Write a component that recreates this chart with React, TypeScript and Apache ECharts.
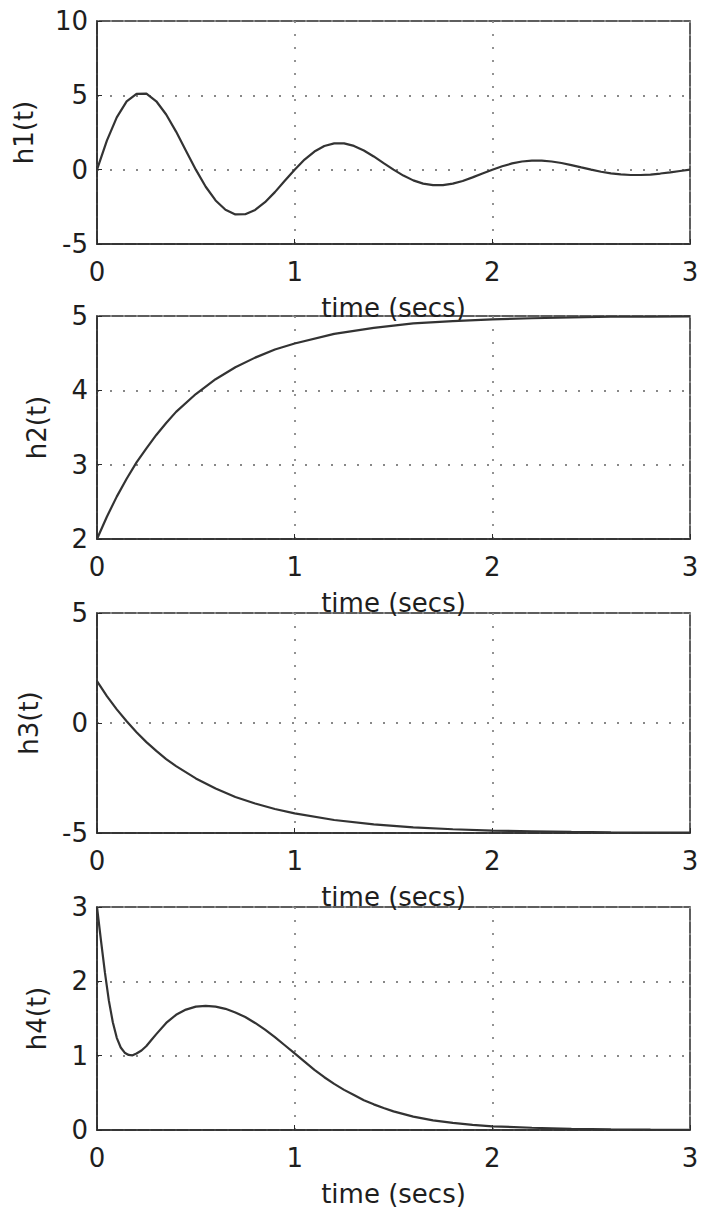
import React, { useEffect, useRef } from "react";
import * as echarts from "echarts";

// ---- data ----
const xTicks = [0, 1, 2, 3];

const t1 = [
  0, 0.05, 0.1, 0.15, 0.2, 0.25, 0.3, 0.35, 0.4, 0.45, 0.5, 0.55, 0.6, 0.65, 0.7, 0.75, 0.8, 0.85, 0.9, 0.95,
  1.0, 1.05, 1.1, 1.15, 1.2, 1.25, 1.3, 1.35, 1.4, 1.45, 1.5, 1.55, 1.6, 1.65, 1.7, 1.75, 1.8, 1.85, 1.9, 1.95,
  2.0, 2.05, 2.1, 2.15, 2.2, 2.25, 2.3, 2.35, 2.4, 2.45, 2.5, 2.55, 2.6, 2.65, 2.7, 2.75, 2.8, 2.85, 2.9, 2.95, 3.0,
];
const h1 = [
  0, 1.95, 3.52, 4.59, 5.1, 5.12, 4.6, 3.71, 2.56, 1.28, 0, -1.15, -2.07, -2.7, -3.01, -3.0, -2.71, -2.19, -1.51, -0.75,
  0, 0.68, 1.22, 1.59, 1.77, 1.77, 1.6, 1.29, 0.89, 0.44, 0, -0.4, -0.72, -0.94, -1.04, -1.04, -0.94, -0.76, -0.52, -0.26,
  0, 0.23, 0.42, 0.55, 0.61, 0.61, 0.55, 0.45, 0.31, 0.15, 0, -0.14, -0.25, -0.32, -0.36, -0.36, -0.33, -0.26, -0.18, -0.09, 0,
];

const t2 = [0, 0.05, 0.1, 0.15, 0.2, 0.25, 0.3, 0.35, 0.4, 0.5, 0.6, 0.7, 0.8, 0.9, 1.0, 1.2, 1.4, 1.6, 1.8, 2.0, 2.2, 2.4, 2.6, 2.8, 3.0];
const h2 = [2, 2.3, 2.57, 2.81, 3.03, 3.22, 3.4, 3.56, 3.71, 3.95, 4.15, 4.31, 4.44, 4.55, 4.63, 4.76, 4.84, 4.9, 4.93, 4.955, 4.97, 4.98, 4.99, 4.99, 4.995];

const t3 = [0, 0.05, 0.1, 0.15, 0.2, 0.25, 0.3, 0.35, 0.4, 0.5, 0.6, 0.7, 0.8, 0.9, 1.0, 1.2, 1.4, 1.6, 1.8, 2.0, 2.2, 2.4, 2.6, 2.8, 3.0];
const h3 = [1.9, 1.22, 0.62, 0.08, -0.42, -0.87, -1.27, -1.64, -1.96, -2.52, -2.98, -3.36, -3.66, -3.91, -4.11, -4.41, -4.61, -4.74, -4.83, -4.89, -4.92, -4.95, -4.97, -4.98, -4.985];

const t4 = [
  0, 0.02, 0.04, 0.06, 0.08, 0.1, 0.12, 0.14, 0.16, 0.18, 0.2, 0.225, 0.25, 0.275, 0.3, 0.35, 0.4, 0.45, 0.5, 0.55, 0.6, 0.65, 0.7,
  0.75, 0.8, 0.85, 0.9, 0.95, 1.0, 1.05, 1.1, 1.15, 1.2, 1.25, 1.3, 1.35, 1.4, 1.45, 1.5, 1.6, 1.7, 1.8, 1.9, 2.0, 2.2, 2.4, 2.6, 2.8, 3.0,
];
const h4 = [
  3.0, 2.55, 2.12, 1.74, 1.45, 1.24, 1.11, 1.04, 1.01, 1.005, 1.03, 1.07, 1.13, 1.21, 1.29, 1.44, 1.55, 1.62, 1.66, 1.67, 1.66, 1.63, 1.58,
  1.52, 1.44, 1.35, 1.25, 1.14, 1.03, 0.92, 0.81, 0.71, 0.62, 0.54, 0.47, 0.4, 0.345, 0.295, 0.25, 0.18, 0.13, 0.095, 0.07, 0.05, 0.03, 0.015, 0.008, 0.004, 0.002,
];

const panelNames = ["h1(t)", "h2(t)", "h3(t)", "h4(t)"];
const yMins = [-5, 2, -5, 0];
const yMaxs = [10, 5, 5, 3];
const yIntervals = [5, 1, 5, 1];
const xName = "time (secs)";

const FONT = "DejaVu Sans";
const TXT = "#1e1e1e";

export default function App() {
  const ref = useRef<HTMLDivElement>(null);
  useEffect(() => {
    if (!ref.current) return;
    const chart = echarts.init(ref.current, undefined, { renderer: "svg" });
    const tops = [21, 316, 613, 907];
    const heights = [223, 223, 220, 223];
    const nameGaps = [60, 47, 55, 47];
    const series = [
      [t1, h1],
      [t2, h2],
      [t3, h3],
      [t4, h4],
    ];
    const grids = tops.map((top, i) => ({
      left: 97,
      width: 593,
      top,
      height: heights[i],
      show: true,
      borderColor: "#2a2a2a",
      borderWidth: 1.5,
      backgroundColor: "transparent",
    }));
    const xAxes = tops.map((_, i) => ({
      type: "value",
      gridIndex: i,
      min: xTicks[0],
      max: xTicks[xTicks.length - 1],
      interval: 1,
      name: xName,
      nameLocation: "middle",
      nameGap: 51,
      nameTextStyle: { fontFamily: FONT, fontSize: 26, color: TXT },
      axisLine: { show: true, onZero: false, lineStyle: { color: "#2a2a2a", width: 1.5 } },
      axisTick: { show: true, inside: true, length: 5, lineStyle: { color: "#2a2a2a" } },
      axisLabel: { fontFamily: FONT, fontSize: 26, color: TXT, margin: 15 },
      splitLine: { show: true, lineStyle: { color: "#888888", width: 1.8, type: [2, 11] } },
    }));
    const yAxes = tops.map((_, i) => ({
      type: "value",
      gridIndex: i,
      min: yMins[i],
      max: yMaxs[i],
      interval: yIntervals[i],
      name: panelNames[i],
      nameLocation: "middle",
      nameGap: nameGaps[i],
      nameTextStyle: { fontFamily: FONT, fontSize: 26, color: TXT },
      axisLine: { show: true, lineStyle: { color: "#2a2a2a", width: 1.5 } },
      axisTick: { show: true, inside: true, length: 5, lineStyle: { color: "#2a2a2a" } },
      axisLabel: { fontFamily: FONT, fontSize: 26, color: TXT, margin: 9 },
      splitLine: { show: true, lineStyle: { color: "#888888", width: 1.8, type: [2, 11] } },
    }));
    chart.setOption({
      animation: false,
      backgroundColor: "#ffffff",
      grid: grids,
      xAxis: xAxes,
      yAxis: yAxes,
      series: series.map(([tx, vy], i) => ({
        type: "line",
        xAxisIndex: i,
        yAxisIndex: i,
        data: tx.map((x, k) => [x, vy[k]]),
        showSymbol: false,
        smooth: false,
        lineStyle: { color: "#333333", width: 2.2 },
        itemStyle: { color: "#333333" },
      })),
    });
    return () => chart.dispose();
  }, []);
  return (
    <div
      ref={ref}
      style={{ position: "fixed", left: 0, top: 0, width: 706, height: 1215 }}
    />
  );
}
